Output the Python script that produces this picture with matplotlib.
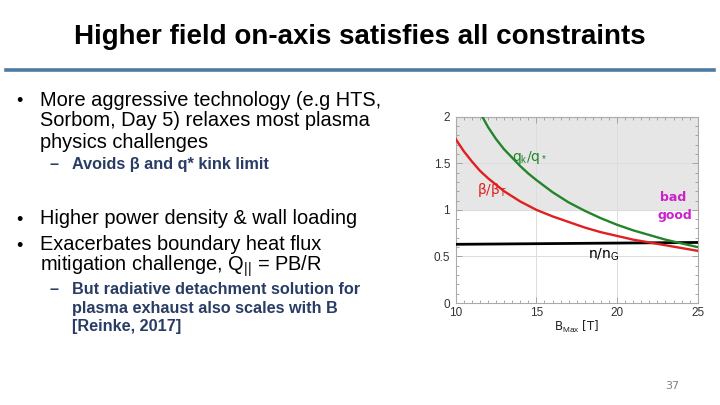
import numpy as np
import matplotlib.pyplot as plt
from matplotlib.ticker import MultipleLocator

# values
b_red = [10, 10.5, 11, 11.5, 12, 12.5, 13, 13.5, 14, 14.5, 15, 16, 17, 18,
         19, 20, 21, 22, 23, 24, 25]
beta_ratio = [1.76, 1.63, 1.52, 1.42, 1.34, 1.27, 1.20, 1.145, 1.09, 1.045,
              1.00, 0.93, 0.87, 0.81, 0.76, 0.72, 0.68, 0.65, 0.62, 0.59, 0.56]

b_green = [11.65, 12, 12.5, 13, 13.5, 14, 14.5, 15, 16, 17, 18, 19, 20, 21,
           22, 23, 24, 25]
q_ratio = [2.00, 1.89, 1.76, 1.65, 1.56, 1.47, 1.39, 1.32, 1.19, 1.08, 0.99,
           0.91, 0.84, 0.78, 0.73, 0.68, 0.64, 0.60]

b_black = [10, 25]
n_ratio = [0.63, 0.65]

x_ticks = [10, 15, 20, 25]
y_ticks = [0, 0.5, 1, 1.5, 2]
y_tick_labels = ['0', '0.5', '1', '1.5', '2']

title = 'Higher field on-axis satisfies all constraints'
bullets = [
    ('main', 98, 'More aggressive technology (e.g HTS,', True),
    ('main', 119, 'Sorbom, Day 5) relaxes most plasma', False),
    ('main', 140, 'physics challenges', False),
    ('sub', 164, 'Avoids \u03b2 and q* kink limit', True),
    ('main', 216, 'Higher power density & wall loading', True),
    ('main', 242, 'Exacerbates boundary heat flux', True),
    ('main', 262, 'mitigation challenge, Q$_{||}$ = PB/R', False),
    ('sub', 290, 'But radiative detachment solution for', True),
    ('sub', 309, 'plasma exhaust also scales with B', False),
    ('sub', 327, '[Reinke, 2017]', False),
]

W, H = 720, 405
fig = plt.figure(figsize=(7.2, 4.05), dpi=100)
plt.rcParams['font.family'] = ['Liberation Sans', 'DejaVu Sans']
plt.rcParams['mathtext.fontset'] = 'custom'
plt.rcParams['mathtext.rm'] = 'Liberation Sans'
plt.rcParams['mathtext.it'] = 'Liberation Sans'

def fx(px):
    return px / W

def fy(py):
    return 1 - py / H

# slide title and rule
fig.text(fx(360), fy(37), title, ha='center', va='center',
         fontsize=20, fontweight='bold', color='black')
fig.add_artist(plt.Line2D([fx(6), fx(714)], [fy(70), fy(70)],
                          color='#4f7ba3', lw=2.6))

navy = '#283c64'
for kind, y, txt, first in bullets:
    if kind == 'main':
        if first:
            fig.text(fx(16), fy(y + 2), '\u2022', ha='left',
                     va='center_baseline', fontsize=13, color='black')
        fig.text(fx(40), fy(y), txt, ha='left', va='center_baseline',
                 fontsize=14.4, color='black')
    else:
        if first:
            fig.text(fx(50), fy(y), '\u2013', ha='left', va='center',
                     fontsize=11.7, color=navy, fontweight='bold')
        fig.text(fx(72), fy(y), txt, ha='left', va='center',
                 fontsize=11.7, color=navy, fontweight='bold')

fig.text(fx(672), fy(386), '37', ha='center', va='center',
         fontsize=8, color='#808080', family='DejaVu Sans')

# chart
ax = fig.add_axes([fx(455.7), fy(303), fx(697.7 - 455.7), (303 - 116.7) / H])
ax.axhspan(1, 2, color='#e6e6e6', zorder=0)
ax.plot(b_black, n_ratio, color='black', lw=2.0, zorder=3)
ax.plot(b_red, beta_ratio, color='#e02020', lw=1.7, zorder=3)
ax.plot(b_green, q_ratio, color='#23842a', lw=1.7, zorder=3)

ax.set_xlim(10, 25)
ax.set_ylim(0, 2)
ax.set_xticks(x_ticks)
ax.set_yticks(y_ticks)
ax.set_yticklabels(y_tick_labels)
ax.xaxis.set_minor_locator(MultipleLocator(0.5))
ax.yaxis.set_minor_locator(MultipleLocator(0.1))
ax.grid(True, which='major', color='#dddddd', lw=0.7, zorder=1)
ax.tick_params(which='both', direction='in', top=True, right=True,
               labelsize=8.5, colors='#999999', labelcolor='#333333',
               width=0.6)
ax.tick_params(axis='x', pad=3)
ax.tick_params(axis='y', pad=4)
ax.tick_params(which='major', length=4)
ax.tick_params(which='minor', length=2)
for s in ax.spines.values():
    s.set_color('#aaaaaa')
    s.set_linewidth(0.8)
ax.set_axisbelow(True)

lf = 'DejaVu Sans'
ax.set_xlabel(r'B$_{\mathrm{Max}}$ [T]', fontsize=8.5, family=lf,
              color='#222222', labelpad=0)
ax.text(14.55, 1.56, 'q$_k$/q$_*$', color='#23842a', fontsize=10,
        ha='center', va='center', family=lf)
ax.text(12.25, 1.21, '\u03b2/\u03b2$_T$', color='#e02020', fontsize=10,
        ha='center', va='center', family=lf)
ax.text(19.2, 0.52, 'n/n$_G$', color='black', fontsize=10,
        ha='center', va='center', family=lf)
ax.text(23.5, 1.13, 'bad', color='#cc22cc', fontsize=9, ha='center',
        va='center', fontweight='bold', family=lf)
ax.text(23.6, 0.94, 'good', color='#cc22cc', fontsize=9, ha='center',
        va='center', fontweight='bold', family=lf)

fig.savefig('out.png', dpi=100)
